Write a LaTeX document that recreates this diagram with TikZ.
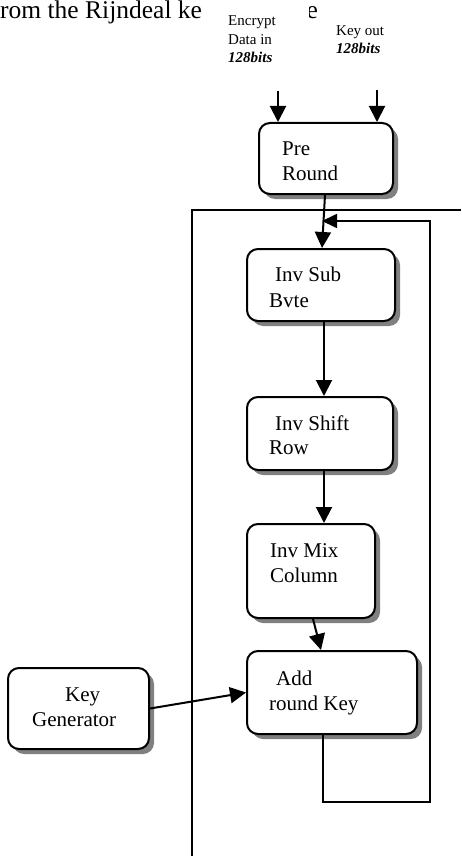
\documentclass[tikz,border=0pt]{standalone}
\usepackage{fontspec}
\setmainfont{Liberation Serif}
\usetikzlibrary{arrows.meta,shadows}
\begin{document}
\begin{tikzpicture}[x=1pt,y=-1pt,
  blk/.style={draw,line width=2pt,rounded corners=11pt,fill=white,inner sep=0pt,
    anchor=north west,drop shadow={shadow xshift=5pt,shadow yshift=-5pt,fill=black!50,opacity=1}},
  btxt/.style={anchor=base west,inner sep=0pt,font=\fontsize{21}{25}\selectfont},
  ltxt/.style={anchor=base west,inner sep=0pt,font=\fontsize{15}{18}\selectfont},
  arr/.style={-{Triangle[length=16pt,width=16pt]},line width=2pt},
  fbline/.style={line width=1.7pt},
  frame/.style={line width=1.3pt}]
\useasboundingbox (0,0) rectangle (461,856);
% top text of the page
\node[anchor=base west,inner sep=0pt,font=\fontsize{25.5}{30}\selectfont] (toptext) at (0,18.5) {rom the Rijndeal ke};
\node[anchor=base west,inner sep=0pt,font=\fontsize{25.5}{30}\selectfont] (tope) at (306.5,18.5) {e};
\fill[white] (208,0) rectangle (308.5,70);
% input labels
\node[ltxt] (l1) at (228,26) {Encrypt};
\node[ltxt] (l2) at (228,45) {Data in};
\node[ltxt] (l3) at (228,63) {\textbf{\textit{128bits}}};
\node[ltxt] (k1) at (336,36) {Key out};
\node[ltxt] (k2) at (336,54) {\textbf{\textit{128bits}}};
% frame
\draw[frame] (461,210) -- (192,210) -- (192,856);
% boxes
\node[blk,minimum width=134pt,minimum height=71pt] (pre) at (258,122) {};
\node[blk,minimum width=148pt,minimum height=72pt] (sub) at (246,248) {};
\node[blk,minimum width=146pt,minimum height=73pt] (shift) at (246,396) {};
\node[blk,minimum width=128pt,minimum height=94pt] (mix) at (246,523) {};
\node[blk,minimum width=170pt,minimum height=83pt] (ark) at (246,650) {};
\node[blk,minimum width=141pt,minimum height=81pt] (kg) at (7,667) {};
% box texts
\node[btxt] (pre1) at (282,155) {Pre};
\node[btxt] (pre2) at (282,180) {Round};
\node[btxt] (sub1) at (275,281) {Inv Sub};
\node[btxt] (sub2) at (269,307) {Bvte};
\node[btxt] (sh1) at (275,430) {Inv Shift};
\node[btxt] (sh2) at (269,454) {Row};
\node[btxt] (mx1) at (270,557) {Inv Mix};
\node[btxt] (mx2) at (270,582) {Column};
\node[btxt] (ar1) at (276,685) {Add};
\node[btxt] (ar2) at (269,710) {round Key};
\node[btxt] (kg1) at (65,701) {Key};
\node[btxt] (kg2) at (32,726) {Generator};
% input arrows
\coordinate (inA) at (278,91);
\coordinate (inB) at (377,90);
\draw[arr] (inA) -- (pre.north -| inA);
\draw[arr] (inB) -- (pre.north -| inB);
% chain
\draw[arr] ([xshift=-1pt]pre.south) -- ([xshift=1pt]sub.north);
\draw[arr] ([xshift=3pt]sub.south) -- ([xshift=3pt]sub.south |- shift.north);
\draw[arr] ([xshift=4pt]shift.south) -- ([xshift=4pt]shift.south |- mix.north);
\draw[arr] ([xshift=2pt]mix.south) -- ([xshift=-11pt]ark.north);
\draw[arr] (kg.east) -- (ark.west);
% feedback loop
\coordinate (fb1) at (323,802);
\coordinate (fb2) at (430,802);
\coordinate (fb3) at (430,221);
\coordinate (fbtip) at (322,221);
\draw[fbline] (ark.south -| fb1) -- (fb1) -- (fb2) -- (fb3) -- (337,221);
\draw[-{Triangle[length=15pt,width=14pt]},line width=1.7pt] (fb3) -- (fbtip);
\end{tikzpicture}
\end{document}
